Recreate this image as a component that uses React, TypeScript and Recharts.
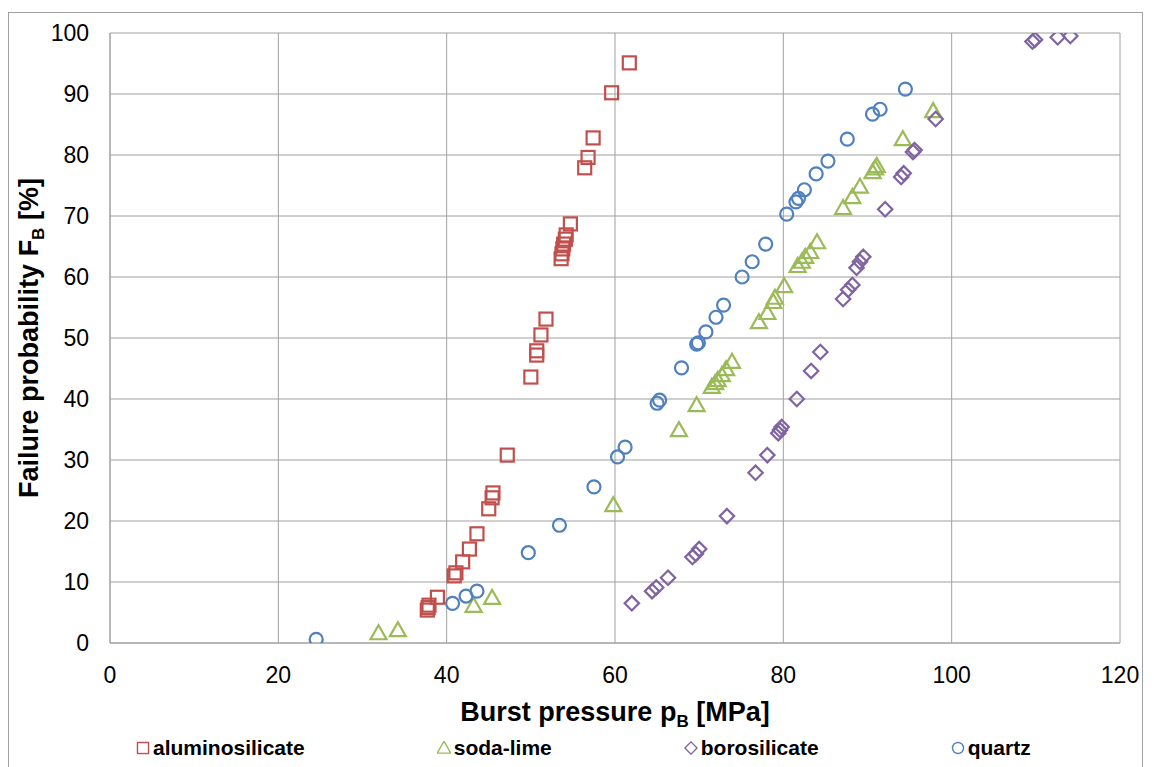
import React from "react";
import { ScatterChart, Scatter, XAxis, YAxis, CartesianGrid, Legend, Label } from "recharts";

// ---- data (burst pressure p_B [MPa], failure probability F_B [%]) ----
const aluminosilicateP = [37.7, 37.8, 37.9, 38.9, 40.9, 41.1, 41.9, 42.7, 43.6, 45.0, 45.4, 45.5, 47.2, 50.0, 50.7, 50.7, 51.2, 51.8, 53.6, 53.7, 53.8, 53.9, 54.1, 54.2, 54.7, 56.4, 56.8, 57.4, 59.6, 61.7];
const aluminosilicateF = [5.4, 5.8, 6.2, 7.5, 11.0, 11.5, 13.3, 15.4, 17.9, 22.0, 23.8, 24.6, 30.8, 43.6, 47.2, 47.9, 50.5, 53.1, 63.0, 63.8, 64.6, 65.4, 66.2, 66.9, 68.7, 77.9, 79.6, 82.8, 90.2, 95.1];

const sodaLimeP = [31.9, 34.2, 43.2, 45.4, 59.8, 67.6, 69.7, 71.5, 71.9, 72.2, 72.7, 73.2, 73.9, 77.1, 78.1, 78.8, 79.0, 80.1, 81.7, 82.2, 82.6, 83.2, 84.0, 87.1, 88.2, 89.1, 90.6, 90.9, 91.1, 94.2, 97.8];
const sodaLimeF = [1.6, 2.1, 6.1, 7.4, 22.6, 34.9, 39.0, 42.0, 42.6, 43.1, 43.9, 44.9, 46.1, 52.6, 54.1, 55.9, 56.6, 58.5, 61.8, 62.5, 63.3, 64.1, 65.7, 71.3, 73.1, 74.8, 77.2, 77.8, 78.2, 82.6, 87.2];

const borosilicateP = [62.0, 64.4, 64.9, 66.3, 69.2, 69.6, 70.0, 73.3, 76.7, 78.1, 79.4, 79.6, 79.8, 81.6, 83.3, 84.4, 87.1, 87.7, 88.2, 88.7, 89.1, 89.5, 92.1, 94.0, 94.3, 95.4, 95.6, 98.1, 109.6, 109.9, 112.6, 114.1];
const borosilicateF = [6.5, 8.5, 9.1, 10.7, 14.1, 14.6, 15.4, 20.8, 27.9, 30.8, 34.4, 34.9, 35.4, 40.0, 44.6, 47.7, 56.4, 57.9, 58.7, 61.5, 62.5, 63.3, 71.1, 76.4, 77.0, 80.5, 80.8, 85.9, 98.6, 98.9, 99.3, 99.5];

const quartzP = [24.5, 40.7, 42.3, 43.6, 49.7, 53.4, 57.5, 60.3, 61.2, 65.0, 65.3, 67.9, 69.7, 69.9, 70.8, 72.0, 72.9, 75.1, 76.3, 77.9, 80.4, 81.5, 81.8, 82.5, 83.9, 85.3, 87.6, 90.6, 91.5, 94.5];
const quartzF = [0.6, 6.5, 7.7, 8.5, 14.8, 19.3, 25.6, 30.5, 32.1, 39.3, 39.8, 45.1, 49.0, 49.2, 51.0, 53.4, 55.4, 60.0, 62.5, 65.4, 70.3, 72.3, 72.9, 74.3, 76.9, 79.0, 82.6, 86.7, 87.5, 90.8];

const xTicks = [0, 20, 40, 60, 80, 100, 120];
const yTicks = [0, 10, 20, 30, 40, 50, 60, 70, 80, 90, 100];

const seriesNames = ["aluminosilicate", "soda-lime", "borosilicate", "quartz"];
const seriesColors = ["#C0504D", "#9BBB59", "#8064A2", "#4F81BD"];
const seriesShapes = ["square", "triangle", "diamond", "circle"];

const zip = (p: number[], f: number[]) => p.map((x, i) => ({ x, y: f[i] }));
const seriesData = [
  zip(aluminosilicateP, aluminosilicateF),
  zip(sodaLimeP, sodaLimeF),
  zip(borosilicateP, borosilicateF),
  zip(quartzP, quartzF),
];

const FONT = "'Liberation Sans', Arial, sans-serif";

function Marker({ kind, cx, cy, color, s = 1, sw = 2.2 }: any) {
  if (kind === "square") {
    const h = 6.5 * s;
    return <rect x={cx - h} y={cy - h} width={2 * h} height={2 * h} fill="none" stroke={color} strokeWidth={sw} />;
  }
  if (kind === "triangle") {
    const pts = `${cx},${cy - 8 * s} ${cx - 8 * s},${cy + 6 * s} ${cx + 8 * s},${cy + 6 * s}`;
    return <polygon points={pts} fill="none" stroke={color} strokeWidth={sw} strokeLinejoin="miter" />;
  }
  if (kind === "diamond") {
    const r = 7.2 * s;
    const pts = `${cx},${cy - r} ${cx + r},${cy} ${cx},${cy + r} ${cx - r},${cy}`;
    return <polygon points={pts} fill="none" stroke={color} strokeWidth={sw} />;
  }
  return <circle cx={cx} cy={cy} r={6.5 * s} fill="none" stroke={color} strokeWidth={sw} />;
}

const makeShape = (kind: string, color: string) => (props: any) => {
  const { cx, cy } = props;
  if (cx == null || cy == null) return <g />;
  return <Marker kind={kind} cx={cx} cy={cy} color={color} />;
};

const XTitle = (props: any) => {
  const vb = props.viewBox || {};
  const x = vb.x + vb.width / 2;
  const y = vb.y + 78;
  return (
    <text x={x} y={y} textAnchor="middle" fontFamily={FONT} fontWeight="bold" fontSize={27} fill="#000">
      <tspan>Burst pressure p</tspan>
      <tspan fontSize={17} dy={6}>B</tspan>
      <tspan dy={-6}> [MPa]</tspan>
    </text>
  );
};

const YTitle = (props: any) => {
  const vb = props.viewBox || {};
  const x = 30;
  const y = vb.y + vb.height / 2;
  return (
    <text x={x} y={y} transform={`rotate(-90, ${x}, ${y})`} textAnchor="middle" fontFamily={FONT} fontWeight="bold" fontSize={27} fill="#000">
      <tspan>Failure probability F</tspan>
      <tspan fontSize={17} dy={6}>B</tspan>
      <tspan dy={-6}> [%]</tspan>
    </text>
  );
};

const LegendContent = () => (
  <div style={{ display: "flex", alignItems: "center", paddingLeft: 128, gap: 132, fontFamily: FONT, fontWeight: "bold", fontSize: 21, color: "#000", height: 30 }}>
    {seriesNames.map((name, i) => (
      <div key={name} style={{ display: "flex", alignItems: "center" }}>
        <svg width={14} height={14} style={{ marginRight: 3 }}>
          <Marker kind={seriesShapes[i]} cx={7} cy={7} color={seriesColors[i]} s={0.85} sw={1.4} />
        </svg>
        <span>{name}</span>
      </div>
    ))}
  </div>
);

export default function App() {
  return (
    <div style={{ position: "relative", width: 1146, height: 759 }}>
      <div
        style={{
          position: "absolute",
          left: 0,
          top: 4,
          width: 1135,
          height: 755,
          borderTop: "1px solid #a0a0a0",
          borderLeft: "1px solid #a0a0a0",
          borderRight: "1px solid #a0a0a0",
          boxSizing: "border-box",
        }}
      />
      <ScatterChart width={1146} height={759} margin={{ top: 25, right: 34, bottom: 4, left: 0 }} style={{ position: "absolute", left: 0, top: 0 }}>
        <CartesianGrid stroke="#a0a0a0" strokeWidth={1} />
        <XAxis
          type="number"
          dataKey="x"
          domain={[0, 120]}
          ticks={xTicks}
          height={90}
          tickLine={false}
          tickSize={0}
          tickMargin={24}
          axisLine={{ stroke: "#a0a0a0" }}
          tick={{ fontFamily: FONT, fontSize: 23, fill: "#000" }}
          allowDataOverflow
        >
          <Label content={XTitle} />
        </XAxis>
        <YAxis
          type="number"
          dataKey="y"
          domain={[0, 100]}
          ticks={yTicks}
          width={102}
          tickLine={false}
          tickSize={0}
          tickMargin={21}
          axisLine={{ stroke: "#a0a0a0" }}
          tick={{ fontFamily: FONT, fontSize: 23, fill: "#000" }}
          allowDataOverflow
        >
          <Label content={YTitle} />
        </YAxis>
        <Legend verticalAlign="bottom" height={30} wrapperStyle={{ left: 0, width: 1146 }} content={LegendContent} />
        {seriesData.map((d, i) => (
          <Scatter
            key={seriesNames[i]}
            name={seriesNames[i]}
            data={d}
            isAnimationActive={false}
            shape={makeShape(seriesShapes[i], seriesColors[i])}
          />
        ))}
      </ScatterChart>
    </div>
  );
}
